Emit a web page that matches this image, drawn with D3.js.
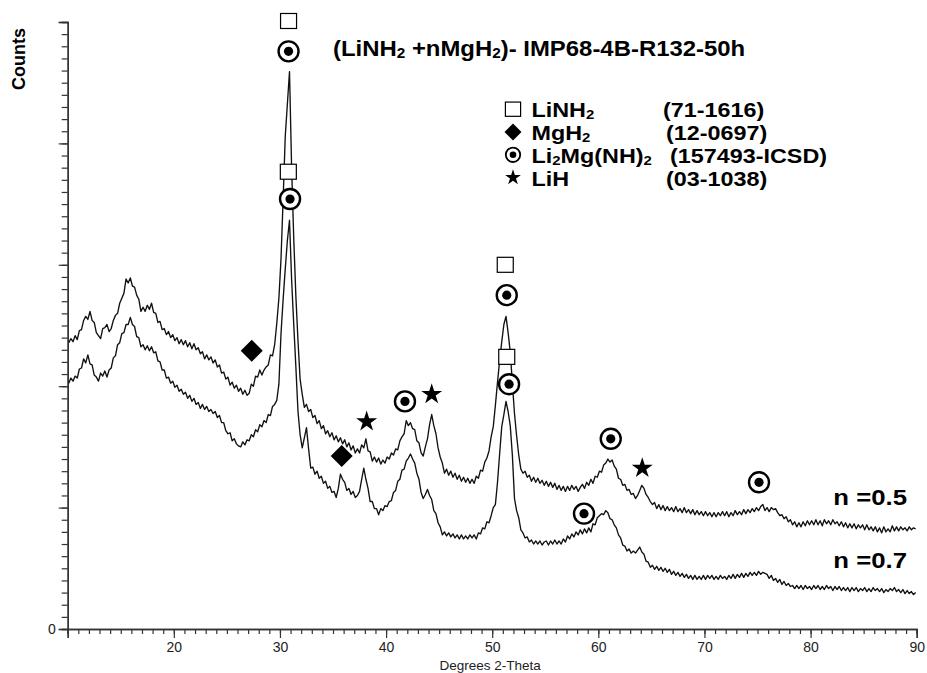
<!DOCTYPE html>
<html>
<head>
<meta charset="utf-8">
<script src="https://cdn.jsdelivr.net/npm/d3@7"></script>
<style>
  html, body { margin: 0; padding: 0; background: #fff; }
  svg { display: block; }
</style>
</head>
<body>
<svg id="chart" width="927" height="673"></svg>
<script>
// Powder XRD scans, 2-theta from 10.1 deg in 0.2 deg steps (400 points each)
const scanStart = 10.1;
const scanStep = 0.2;

// n = 0.5 sample (counts)
const countsN05 = [
  283,287,284,290,286,295,296,305,309,306,314,305,303,293,290,287,297,298,301,294,297,305,310,312,322,
  327,332,346,342,347,339,338,330,326,314,318,314,320,316,322,313,312,303,304,296,297,291,294,288,291,
  285,288,282,286,281,285,279,283,277,282,276,278,272,274,267,271,266,269,263,266,259,261,253,254,247,
  249,241,244,238,241,235,238,232,236,231,233,242,240,250,249,256,251,256,259,261,271,270,281,302,327,
  366,425,487,519,551,456,386,329,285,247,232,219,222,215,217,209,211,203,206,198,201,193,196,190,194,
  187,191,185,189,183,187,180,184,177,181,174,178,174,182,179,188,176,175,166,170,165,169,163,167,164,
  170,168,174,172,178,177,186,190,193,206,201,204,198,197,186,184,174,171,180,188,202,212,201,193,179,
  170,164,154,158,152,156,150,154,148,152,146,150,145,149,144,148,144,151,149,157,156,165,169,176,190,
  200,221,244,265,284,301,309,293,274,243,213,191,172,158,154,156,150,152,146,150,145,149,144,147,142,
  146,141,145,140,144,138,142,137,141,136,141,137,142,138,141,136,140,143,139,145,142,148,144,151,150,
  156,155,162,164,168,165,167,161,158,149,148,142,143,137,138,133,134,129,132,137,142,139,133,130,126,
  123,125,119,123,118,122,117,121,117,120,116,121,116,119,115,120,115,118,114,118,113,117,113,116,112,
  116,112,115,111,115,111,115,112,116,112,116,111,115,112,117,113,116,113,118,114,118,115,119,116,120,
  117,121,123,117,120,116,120,118,119,115,112,113,109,111,106,108,103,106,101,105,101,106,102,107,103,
  107,103,108,103,107,102,108,104,107,103,108,104,106,102,106,101,105,100,104,100,104,99,103,100,103,
  98,103,98,101,97,101,96,100,95,101,96,99,96,102,97,101,97,101,98,100,97,101,98,100,99
];

// n = 0.7 sample (counts)
const countsN07 = [
  243,248,245,250,248,257,258,267,263,271,262,261,251,249,245,253,250,255,249,256,258,268,270,281,283,
  292,293,301,301,308,301,299,289,288,279,281,276,280,275,279,273,274,265,264,256,256,248,249,243,245,
  239,241,235,237,232,234,228,231,225,228,222,224,218,222,217,220,215,217,213,215,209,211,204,204,196,
  193,194,186,188,183,181,180,185,182,187,186,192,190,197,195,202,200,206,204,212,211,220,222,226,242,
  292,326,356,384,404,345,301,259,215,192,179,189,199,178,159,160,153,156,149,151,144,146,139,141,135,
  136,130,139,153,148,145,137,139,133,136,130,132,136,148,159,148,139,126,126,119,119,113,119,117,122,
  121,126,127,135,137,146,148,157,158,166,169,173,168,164,154,148,135,129,133,138,132,128,117,114,105,
  101,93,96,92,95,91,94,90,93,89,93,89,92,89,93,90,93,89,95,94,100,99,106,105,112,
  120,123,145,173,200,212,225,215,201,172,129,117,110,98,95,90,91,86,88,84,87,84,87,83,86,
  87,83,87,84,88,84,87,84,89,86,92,89,94,91,96,93,98,94,99,95,100,96,104,103,110,
  112,114,113,117,115,109,108,103,100,93,90,83,82,77,79,75,77,75,78,81,76,74,67,66,61,
  63,59,62,58,61,57,60,56,59,54,57,53,56,52,55,51,54,50,53,49,53,49,52,49,53,
  49,53,50,53,49,52,49,53,50,52,49,53,50,54,50,54,51,55,51,55,52,56,53,56,53,
  57,54,56,55,54,50,53,48,50,46,49,44,47,43,45,42,43,40,43,40,43,39,43,40,42,
  39,43,40,43,39,42,39,43,40,42,38,42,39,42,38,41,38,41,37,41,38,41,37,40,38,
  41,37,40,37,41,38,40,37,40,36,39,37,40,38,41,37,39,36,39,35,38,35,37,34,36
];

// Phase markers: [2-theta, counts] where each symbol sits
const markLiNH2     = [[30.81, 601], [30.79, 452], [51.23, 360], [51.37, 269]];
const markMgH2      = [[27.34, 275], [35.82, 171]];
const markLi2MgNH2  = [[30.81, 571], [30.95, 425], [41.78, 225], [51.37, 330],
                       [51.59, 242], [61.17, 188], [75.14, 145], [58.65, 114]];
const markLiH       = [[38.17, 205], [44.30, 232], [64.14, 159]];

// Series labels: [text, 2-theta, counts]
const seriesLabels = [["n =0.5", 82.14, 123], ["n =0.7", 82.14, 60]];

// Legend rows ("_" marks a subscript character)
const legendKeys  = ["square", "diamond", "circle", "star"];
const legendNames = ["LiNH_2", "MgH_2", "Li_2Mg(NH)_2", "LiH"];
const legendCodes = ["(71-1616)", "(12-0697)", "(157493-ICSD)", "(03-1038)"];
const legendCodeX = [663, 666, 670, 666];

const titleText = "(LiNH_2 +nMgH_2)- IMP68-4B-R132-50h";
const xTickLabels = [20, 30, 40, 50, 60, 70, 80, 90];

const FONT = "'Liberation Sans', Arial, Helvetica, sans-serif";
const INK = "#000";

const svg = d3.select("#chart");
svg.append("rect").attr("width", 927).attr("height", 673).attr("fill", "#fff");

const x = d3.scaleLinear().domain([10, 90]).range([67.7, 916.7]);
const y = d3.scaleLinear().domain([0, 600]).range([629, 22]);

// ---- axes ----
function styleAxis(g) {
  g.select(".domain").attr("stroke", "#333").attr("stroke-width", 1.4);
  g.selectAll(".tick line").attr("stroke", "#333").attr("stroke-width", 1.2);
  g.selectAll(".tick text").attr("fill", "#222")
    .attr("font-family", FONT).attr("font-size", 14);
}

// x minor ticks every degree
svg.append("g").attr("transform", `translate(0,${y(0)})`)
  .call(d3.axisBottom(x).tickValues(d3.range(10, 91, 1)).tickSize(5).tickFormat(""))
  .call(styleAxis);
// x major ticks every ten degrees
svg.append("g").attr("transform", `translate(0,${y(0)})`)
  .call(d3.axisBottom(x).tickValues(d3.range(10, 91, 10)).tickSize(9).tickPadding(4)
    .tickFormat(d => xTickLabels.includes(d) ? String(d) : ""))
  .call(styleAxis);

// y minor / major ticks
svg.append("g").attr("transform", `translate(${x(10)},0)`)
  .call(d3.axisLeft(y).tickValues(d3.range(0, 601, 12)).tickSize(6).tickFormat(""))
  .call(styleAxis);
svg.append("g").attr("transform", `translate(${x(10)},0)`)
  .call(d3.axisLeft(y).tickValues(d3.range(0, 601, 120)).tickSize(9).tickPadding(3)
    .tickFormat(d => d === 0 ? "0" : ""))
  .call(styleAxis);

// axis titles
svg.append("text")
  .attr("x", x(50) - 2).attr("y", 670)
  .attr("text-anchor", "middle")
  .attr("font-family", FONT).attr("font-size", 13.5).attr("fill", "#222")
  .text("Degrees 2-Theta");

svg.append("text")
  .attr("transform", "translate(25,59) rotate(-90)")
  .attr("text-anchor", "middle")
  .attr("font-family", FONT).attr("font-size", 18).attr("font-weight", "bold")
  .attr("fill", INK)
  .text("Counts");

// ---- scan lines ----
const line = d3.line()
  .x((d, i) => x(scanStart + i * scanStep))
  .y(d => y(d));

[countsN05, countsN07].forEach(series => {
  svg.append("path")
    .datum(series)
    .attr("d", line)
    .attr("fill", "none")
    .attr("stroke", "#111")
    .attr("stroke-width", 1.35)
    .attr("stroke-linejoin", "round");
});

// ---- rich text (subscripts after "_") ----
function richText(sel, str, size) {
  let i = 0;
  let sub = false;
  while (i < str.length) {
    if (str[i] === "_") {
      sel.append("tspan").attr("font-size", size * 0.64).attr("dy", size * 0.1).text(str[i + 1]);
      sub = true;
      i += 2;
    } else {
      let j = i;
      while (j < str.length && str[j] !== "_") j++;
      const t = sel.append("tspan").text(str.slice(i, j));
      if (sub) { t.attr("dy", -size * 0.1); sub = false; }
      i = j;
    }
  }
}

// bold label, slightly widened horizontally like the instrument software output
function wideText(parent, tx, ty, size, sx) {
  return parent.append("text")
    .attr("transform", `translate(${tx},${ty}) scale(${sx},1)`)
    .attr("font-family", FONT).attr("font-size", size).attr("font-weight", "bold")
    .attr("fill", INK);
}

// ---- phase symbols ----
function drawSymbol(g, kind, cx, cy, scale) {
  if (kind === "square") {
    const w = 16 * scale, h = 15 * scale;
    g.append("rect").attr("x", cx - w / 2).attr("y", cy - h / 2)
      .attr("width", w).attr("height", h)
      .attr("fill", "#fff").attr("stroke", INK).attr("stroke-width", 1.2);
  } else if (kind === "diamond") {
    g.append("path")
      .attr("d", d3.symbol(d3.symbolSquare, 242 * scale * scale)())
      .attr("transform", `translate(${cx},${cy}) rotate(45)`)
      .attr("fill", "#000");
  } else if (kind === "circle") {
    g.append("circle").attr("cx", cx).attr("cy", cy).attr("r", 10 * scale)
      .attr("fill", "#fff").attr("stroke", "#000").attr("stroke-width", 2.4 * Math.max(scale, 0.75));
    g.append("circle").attr("cx", cx).attr("cy", cy).attr("r", 4.6 * scale)
      .attr("fill", "#000");
  } else if (kind === "star") {
    g.append("path")
      .attr("d", d3.symbol(d3.symbolStar, 136 * scale * scale)())
      .attr("transform", `translate(${cx},${cy})`)
      .attr("fill", "#000");
  }
}

const marks = svg.append("g");
[["square", markLiNH2], ["diamond", markMgH2], ["circle", markLi2MgNH2], ["star", markLiH]]
  .forEach(([kind, pts]) => {
    pts.forEach(p => drawSymbol(marks, kind, x(p[0]), y(p[1]), 1));
  });

// ---- title ----
richText(wideText(svg, 333, 56, 22, 1.087), titleText, 22);

// ---- legend ----
const legend = svg.append("g");
legendNames.forEach((name, i) => {
  const base = 117.2 + i * 22.8;
  const scale = legendKeys[i] === "circle" ? 0.72 : (legendKeys[i] === "star" ? 0.75 : (legendKeys[i] === "diamond" ? 0.77 : 0.95));
  drawSymbol(legend, legendKeys[i], 513, base - 8, scale);
  richText(wideText(legend, 531.5, base, 19.8, 1.18), name, 19.8);
  wideText(legend, legendCodeX[i], base, 19.8, 1.18).text(legendCodes[i]);
});

// ---- series labels ----
seriesLabels.forEach(([txt, tx, ty]) => {
  wideText(svg, x(tx), y(ty), 23, 1.12).text(txt);
});
</script>
</body>
</html>
